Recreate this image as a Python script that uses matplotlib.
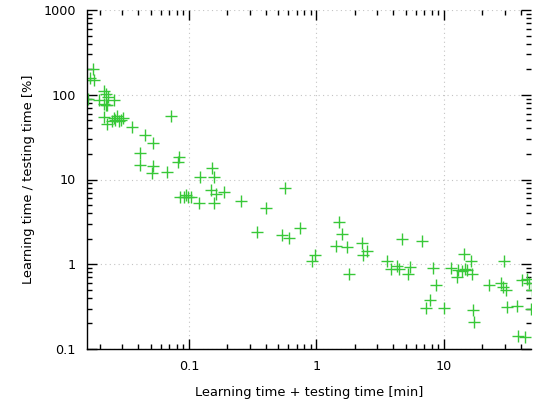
import matplotlib
matplotlib.use("Agg")
import matplotlib.pyplot as plt
from matplotlib.ticker import FixedLocator, LogLocator, NullFormatter, FixedFormatter

total_time_min = [
    0.01766, 0.01556, 0.01683, 0.01808, 0.02154, 0.02234, 0.01614, 0.0195, 0.0233, 0.0258,
    0.02134, 0.0221, 0.02275, 0.02134, 0.02254, 0.0249, 0.02567, 0.02642, 0.02723, 0.0281,
    0.02944, 0.0302, 0.0357, 0.0722, 0.0452, 0.0517, 0.0413, 0.0413, 0.0525, 0.0513,
    0.0676, 0.0839, 0.0824, 0.150, 0.158, 0.1226, 0.1488, 0.1614, 0.189, 0.0842,
    0.0905, 0.0953, 0.0987, 0.1042, 0.1205, 0.158, 0.256, 0.566, 0.404, 0.344,
    0.540, 0.612, 0.743, 0.973, 0.916, 1.415, 1.496, 1.60, 1.735, 1.80,
    2.26, 2.48, 2.30, 4.73, 6.72, 3.55, 3.84, 4.32, 4.45, 5.41,
    5.19, 8.15, 8.73, 7.77, 7.23, 10.0, 14.35, 16.2, 11.3, 12.9,
    13.8, 14.7, 15.1, 12.7, 16.5, 29.6, 22.6, 28.0, 29.0, 30.5,
    31.4, 37.2, 17.0, 17.3, 40.7, 44.6, 46.2, 49.3, 48.0, 38.3, 43.2,
]
learn_test_ratio_pct = [
    200.5, 150.7, 155.7, 148.7, 111.8, 103.0, 88.7, 87.5, 95.0, 85.7,
    78.5, 75.4, 76.0, 55.1, 45.6, 48.4, 53.7, 50.8, 55.9, 48.4,
    49.7, 53.7, 42.0, 56.4, 33.8, 27.2, 20.3, 15.0, 14.4, 11.8,
    12.4, 18.3, 16.0, 13.6, 10.8, 10.8, 7.47, 6.70, 7.21, 6.23,
    6.18, 6.53, 6.23, 6.18, 5.35, 5.32, 5.54, 8.0, 4.67, 2.41,
    2.20, 2.04, 2.68, 1.29, 1.10, 1.66, 3.16, 2.30, 1.60, 0.777,
    1.80, 1.42, 1.28, 1.99, 1.905, 1.085, 0.88, 0.965, 0.889, 0.929,
    0.758, 0.909, 0.570, 0.376, 0.306, 0.305, 1.305, 1.085, 0.904, 0.85,
    0.838, 0.89, 0.85, 0.708, 0.762, 1.106, 0.576, 0.605, 0.545, 0.50,
    0.317, 0.322, 0.292, 0.211, 0.653, 0.678, 0.60, 0.493, 0.297, 0.142, 0.139,
]

x_ticks = [0.1, 1, 10]
x_tick_labels = ["0.1", "1", "10"]
y_ticks = [0.1, 1, 10, 100, 1000]
y_tick_labels = ["0.1", "1", "10", "100", "1000"]

plt.rcParams['font.family'] = ['DejaVu Sans']

fig = plt.figure(figsize=(5.44, 4.08), dpi=100)
ax = fig.add_axes([87/544, 1 - 349/408, (531 - 87)/544, (349 - 10)/408])

ax.set_xscale('log')
ax.set_yscale('log')
ax.set_xlim(0.0158, 48.3)
ax.set_ylim(0.1, 1000)

ax.plot(total_time_min, learn_test_ratio_pct, linestyle='none', marker='+',
        markersize=8, markeredgewidth=1.0, color='#38c838', clip_on=True)

ax.xaxis.set_major_locator(FixedLocator(x_ticks))
ax.xaxis.set_major_formatter(FixedFormatter(x_tick_labels))
ax.yaxis.set_major_locator(FixedLocator(y_ticks))
ax.yaxis.set_major_formatter(FixedFormatter(y_tick_labels))
ax.xaxis.set_minor_locator(LogLocator(base=10, subs=range(2, 10), numticks=20))
ax.yaxis.set_minor_locator(LogLocator(base=10, subs=range(2, 10), numticks=20))
ax.xaxis.set_minor_formatter(NullFormatter())
ax.yaxis.set_minor_formatter(NullFormatter())

ax.tick_params(which='major', direction='in', length=7, width=1.0, top=True, right=True,
               labelsize=9.2, pad=8, color='black')
ax.tick_params(which='minor', direction='in', length=3.5, width=1.0, top=True, right=True,
               color='black')

ax.spines['top'].set_visible(False)
ax.spines['right'].set_visible(False)
ax.spines['left'].set_linewidth(1.0)
ax.spines['bottom'].set_linewidth(1.0)

ax.grid(True, which='major', linestyle=(0, (1, 3)), color='#c4c4c4', linewidth=0.8)
ax.set_axisbelow(True)

ax.set_xlabel('Learning time + testing time [min]', fontsize=9.4, labelpad=9)
ax.set_ylabel('Learning time / testing time [%]', fontsize=9.4, labelpad=6)

fig.savefig('out.png', dpi=100)
